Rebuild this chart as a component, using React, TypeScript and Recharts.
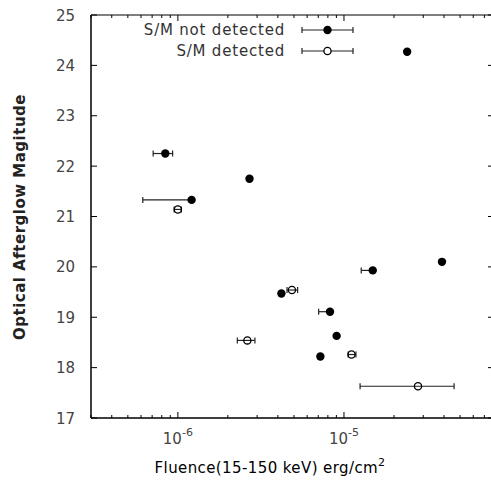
import React from "react";
import { ErrorBar, Legend, ReferenceArea, Scatter, ScatterChart, XAxis, YAxis } from "recharts";

// S/M not detected (filled)
const ndFluence = [2.4e-5, 8.4e-7, 2.7e-6, 1.21e-6, 3.89e-5, 1.49e-5, 4.2e-6, 8.24e-6, 9.03e-6, 7.21e-6];
const ndMag = [24.27, 22.25, 21.75, 21.33, 20.1, 19.93, 19.47, 19.11, 18.63, 18.22];
const ndErrLow = [null, 1.3e-7, null, 5.95e-7, null, 2.2e-6, null, 1.2e-6, null, null];
const ndErrHigh = [null, 0.9e-7, null, 0, null, 0, null, 0, null, null];

// S/M detected (open)
const dFluence = [1.0e-6, 4.86e-6, 2.62e-6, 1.11e-5, 2.79e-5];
const dMag = [21.14, 19.54, 18.54, 18.26, 17.63];
const dErrLow = [0.05e-6, 0.32e-6, 0.34e-6, 0.05e-5, 1.54e-5];
const dErrHigh = [0.05e-6, 0.4e-6, 0.29e-6, 0.07e-5, 1.81e-5];

const seriesNames = ["S/M not detected", "S/M detected"];

const xDomain = [3e-7, 8e-5];
const yDomain = [17, 25];
const xMajor = [1e-6, 1e-5];
const xTicks = [
  3e-7, 4e-7, 5e-7, 6e-7, 7e-7, 8e-7, 9e-7, 1e-6,
  2e-6, 3e-6, 4e-6, 5e-6, 6e-6, 7e-6, 8e-6, 9e-6, 1e-5,
  2e-5, 3e-5, 4e-5, 5e-5, 6e-5, 7e-5, 8e-5,
];
const yTicks = [17, 18, 19, 20, 21, 22, 23, 24, 25];

const FONT = "DejaVu Sans";

// layout (plot box ends slightly past the right edge of the picture, like the original)
const CHART_W = 495;
const CHART_H = 481;
const MARGIN = { top: 15, right: 1, bottom: 0, left: 0 };
const PLOT_TOP = MARGIN.top;
const PLOT_RIGHT = CHART_W - MARGIN.right;

const build = (xs: number[], ys: number[], lo: (number | null)[], hi: (number | null)[]) =>
  xs.map((x, i) => ({
    x,
    y: ys[i],
    err: lo[i] == null ? undefined : [lo[i], hi[i]],
  }));

const notDetected = build(ndFluence, ndMag, ndErrLow, ndErrHigh);
const detected = build(dFluence, dMag, dErrLow, dErrHigh);

// bottom ticks point inward, mirrored on the top border
const BottomTick = (props: any) => {
  const { x, y, payload } = props;
  const major = xMajor.includes(payload.value);
  const len = major ? 6 : 3;
  const exp = Math.round(Math.log10(payload.value));
  return (
    <g>
      <line x1={x} x2={x} y1={y} y2={y - len} stroke="#000" />
      <line x1={x} x2={x} y1={PLOT_TOP} y2={PLOT_TOP + len} stroke="#000" />
      {major && (
        <text x={x} y={y + 26} textAnchor="middle" fontSize={15} fill="#444" fontFamily={FONT}>
          10
          <tspan dy={-8} fontSize={11}>
            {exp}
          </tspan>
        </text>
      )}
    </g>
  );
};

const LeftTick = (props: any) => {
  const { x, y, payload } = props;
  return (
    <g>
      <line x1={x} x2={x + 6} y1={y} y2={y} stroke="#000" />
      <line x1={PLOT_RIGHT - 6} x2={PLOT_RIGHT} y1={y} y2={y} stroke="#000" />
      <text x={x - 16} y={y} dy={5.5} textAnchor="end" fontSize={15} fill="#444" fontFamily={FONT}>
        {payload.value}
      </text>
    </g>
  );
};

const FilledDot = (props: any) => <circle cx={props.cx} cy={props.cy} r={4.2} fill="#000" />;
const OpenDot = (props: any) => (
  <circle cx={props.cx} cy={props.cy} r={3.6} fill="none" stroke="#000" strokeWidth={1.3} />
);

const renderLegend = () => (
  <div style={{ fontFamily: FONT, fontSize: 15, color: "#333" }}>
    {seriesNames.map((name, i) => {
      const open = i === 1;
      return (
        <div key={name} style={{ display: "flex", alignItems: "center", height: 21 }}>
          <span style={{ width: 285, textAlign: "right", letterSpacing: 0.8 }}>{name}</span>
          <svg width={58} height={16} style={{ marginLeft: 14 }}>
            <line x1={3} x2={54} y1={8} y2={8} stroke="#222" strokeWidth={1.2} />
            <line x1={3} x2={3} y1={5} y2={11} stroke="#222" strokeWidth={1.2} />
            <line x1={54} x2={54} y1={5} y2={11} stroke="#222" strokeWidth={1.2} />
            {open ? (
              <circle cx={28.5} cy={8} r={3.6} fill="#fff" stroke="#000" strokeWidth={1.3} />
            ) : (
              <circle cx={28.5} cy={8} r={4.2} fill="#000" />
            )}
          </svg>
        </div>
      );
    })}
  </div>
);

const YLabel = () => {
  const cx = 20;
  const cy = 217;
  return (
    <text
      x={cx}
      y={cy}
      transform={`rotate(-90, ${cx}, ${cy})`}
      textAnchor="middle"
      dominantBaseline="central"
      fontSize={15}
      fontWeight="bold"
      letterSpacing={0.5}
      fill="#222"
      fontFamily={FONT}
    >
      Optical Afterglow Magitude
    </text>
  );
};

const XLabel = () => (
  <text
    x={270}
    y={473}
    textAnchor="middle"
    fontSize={15}
    letterSpacing={0.4}
    fill="#000"
    fontFamily={FONT}
  >
    Fluence(15-150 keV) erg/cm
    <tspan dy={-7} fontSize={11}>
      2
    </tspan>
  </text>
);

export default function App() {
  return (
    <div
      style={{
        position: "absolute",
        left: 0,
        top: 0,
        width: 491,
        height: 481,
        overflow: "hidden",
        background: "#fff",
      }}
    >
      <ScatterChart width={CHART_W} height={CHART_H} margin={MARGIN}>
        <XAxis
          dataKey="x"
          type="number"
          scale="log"
          domain={xDomain}
          allowDataOverflow
          ticks={xTicks}
          interval={0}
          tickSize={0}
          tickMargin={0}
          tick={<BottomTick />}
          height={63}
          stroke="#000"
          label={{ content: XLabel }}
        />
        <YAxis
          dataKey="y"
          type="number"
          domain={yDomain}
          allowDataOverflow
          ticks={yTicks}
          interval={0}
          tickSize={0}
          tickMargin={0}
          tick={<LeftTick />}
          width={91}
          stroke="#000"
          label={{ content: YLabel }}
        />
        <ReferenceArea
          x1={xDomain[0]}
          x2={xDomain[1]}
          y1={yDomain[0]}
          y2={yDomain[1]}
          fill="none"
          stroke="#000"
          ifOverflow="visible"
        />
        <Legend
          layout="horizontal"
          verticalAlign="middle"
          align="center"
          content={renderLegend}
          wrapperStyle={{ top: 19, left: 0, width: 400 }}
        />
        <Scatter
          name={seriesNames[0]}
          data={notDetected}
          fill="#000"
          shape={<FilledDot />}
          isAnimationActive={false}
        >
          <ErrorBar dataKey="err" direction="x" width={3} stroke="#222" strokeWidth={1.2} />
        </Scatter>
        <Scatter
          name={seriesNames[1]}
          data={detected}
          fill="#000"
          shape={<OpenDot />}
          isAnimationActive={false}
        >
          <ErrorBar dataKey="err" direction="x" width={3} stroke="#222" strokeWidth={1.2} />
        </Scatter>
      </ScatterChart>
    </div>
  );
}
